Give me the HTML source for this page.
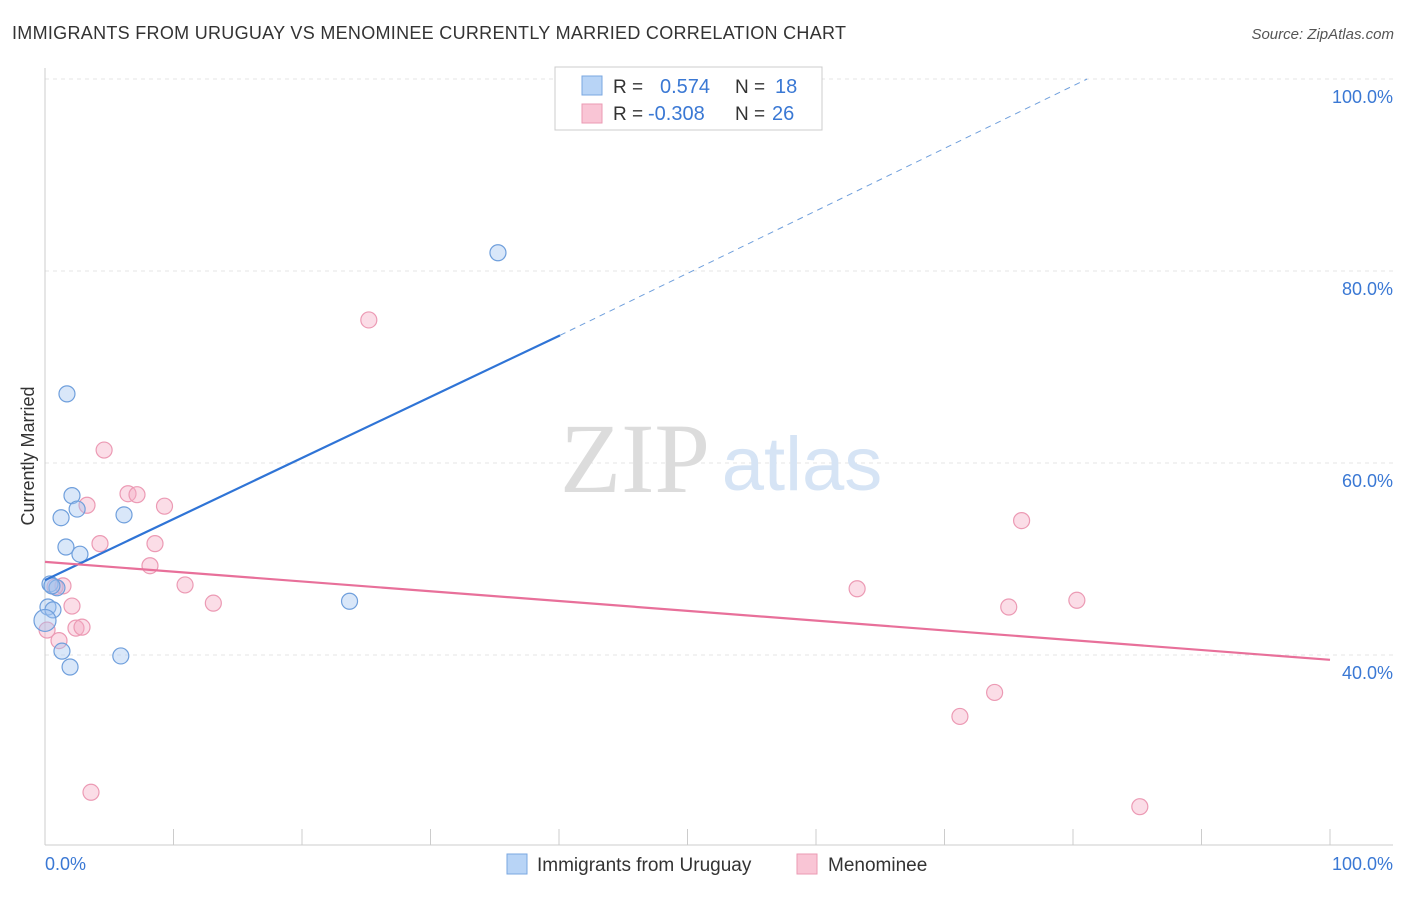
<!DOCTYPE html>
<html><head><meta charset="utf-8"><style>
body{margin:0;background:#fff;font-family:"Liberation Sans",sans-serif;}
</style></head><body>
<svg width="1406" height="892" xmlns="http://www.w3.org/2000/svg" font-family="Liberation Sans, sans-serif">
<text x="12" y="39" font-size="18" fill="#333" textLength="834">IMMIGRANTS FROM URUGUAY VS MENOMINEE CURRENTLY MARRIED CORRELATION CHART</text>
<text x="1394" y="39" font-size="15" fill="#555" text-anchor="end" font-style="italic">Source: ZipAtlas.com</text>
<g id="grid"></g>
<line x1="45" y1="68" x2="45" y2="845" stroke="#ccc"/>
<line x1="45" y1="845" x2="1393" y2="845" stroke="#ccc"/>
<text x="635" y="492" font-size="100" fill="#dcdcdc" style="font-family:'Liberation Serif',serif" text-anchor="middle">ZIP</text>
<text x="802" y="490" font-size="76" fill="#d6e4f5" text-anchor="middle">atlas</text>
<text transform="translate(34,456) rotate(-90)" font-size="18" fill="#333" text-anchor="middle">Currently Married</text>
<text x="45" y="870" font-size="18" fill="#3a78d4">0.0%</text>
<text x="1393" y="870" font-size="18" fill="#3a78d4" text-anchor="end">100.0%</text>
<g id="marks"></g>
<g>
<rect x="555" y="67" width="267" height="63" fill="#fff" stroke="#ccc"/>
<rect x="582" y="76" width="20" height="19" fill="#b8d4f6" stroke="#7aa7e0"/>
<rect x="582" y="104" width="20" height="19" fill="#f9c5d5" stroke="#eb9ab3"/>
<text x="613" y="93" font-size="19" fill="#333">R = </text><text x="660" y="93" font-size="20" fill="#3a78d4">0.574</text>
<text x="735" y="93" font-size="19" fill="#333">N = </text><text x="775" y="93" font-size="20" fill="#3a78d4">18</text>
<text x="613" y="120" font-size="19" fill="#333">R = </text><text x="648" y="120" font-size="20" fill="#3a78d4">-0.308</text>
<text x="735" y="120" font-size="19" fill="#333">N = </text><text x="772" y="120" font-size="20" fill="#3a78d4">26</text>
</g>
<g>
<rect x="507" y="854" width="20" height="20" fill="#b8d4f6" stroke="#7aa7e0"/>
<text x="537" y="871" font-size="19" fill="#333">Immigrants from Uruguay</text>
<rect x="797" y="854" width="20" height="20" fill="#f9c5d5" stroke="#eb9ab3"/>
<text x="828" y="871" font-size="19" fill="#333">Menominee</text>
</g>
</svg>
<script>
const yTicks=[40,60,80,100];
const yTickLabels=["40.0%","60.0%","80.0%","100.0%"];
const xTicks=[0,10,20,30,40,50,60,70,80,90,100];
const blueX=[35.25,1.71,2.1,1.25,2.5,6.15,1.63,2.72,0.39,0.93,0.54,0.23,0.62,0,1.32,1.95,5.9,23.7];
const blueY=[81.9,67.2,56.6,54.3,55.2,54.6,51.25,50.5,47.4,47.0,47.2,45.0,44.7,43.6,40.4,38.75,39.9,45.6];
const pinkX=[25.2,4.6,6.46,7.16,9.3,3.27,4.28,8.56,8.17,10.9,13.1,1.4,0.78,2.1,2.41,2.88,1.09,0.16,3.58,63.2,76.0,75.0,80.3,73.9,71.2,85.2];
const pinkY=[74.9,61.35,56.8,56.7,55.5,55.6,51.6,51.6,49.3,47.3,45.4,47.2,47.1,45.1,42.8,42.9,41.5,42.6,25.7,46.9,54.0,45.0,45.7,36.1,33.6,24.2];
const blueTrend=[47.8,73.3,100]; const blueTrendX=[0,40.08,81.1];
const pinkTrendX=[0,100]; const pinkTrend=[49.7,39.5];
const NS="http://www.w3.org/2000/svg";
const X=v=>45+v*12.85, Y=v=>1039-v*9.6;
const grid=document.getElementById('grid'), marks=document.getElementById('marks');
function mk(tag,attrs,parent){const e=document.createElementNS(NS,tag);for(const k in attrs)e.setAttribute(k,attrs[k]);parent.appendChild(e);return e;}
yTicks.forEach((t,i)=>{
 const l=mk('line',{x1:45,x2:1393,y1:Y(t),y2:Y(t),stroke:'#e6e6e6','stroke-dasharray':'4,4'},grid);
 
 
 const tx=mk('text',{x:1393,y:Y(t)+24,'font-size':18,fill:'#3a78d4','text-anchor':'end'},grid);
 tx.textContent=yTickLabels[i];
 
 
});
xTicks.forEach(t=>{
 const l=mk('line',{x1:X(t),x2:X(t),y1:829,y2:845,stroke:'#ccc'},grid);
 
 
});
pinkX.forEach((v,i)=>{
 const c=mk('circle',{cx:X(v),cy:Y(pinkY[i]),r:8,fill:'rgba(246,170,195,0.4)',stroke:'#ec9ab4','stroke-width':1.2},marks);
 
 
});
blueX.forEach((v,i)=>{
 const c=mk('circle',{cx:X(v),cy:Y(blueY[i]),r:i==13?11:8,fill:'rgba(160,196,240,0.4)',stroke:'#6f9fdc','stroke-width':1.2},marks);
 
 
});
let l=mk('line',{x1:X(blueTrendX[0]),y1:Y(blueTrend[0]),x2:X(blueTrendX[1]),y2:Y(blueTrend[1]),stroke:'#2f74d6','stroke-width':2.2},marks);


l=mk('line',{x1:X(blueTrendX[1]),y1:Y(blueTrend[1]),x2:X(blueTrendX[2]),y2:Y(blueTrend[2]),stroke:'#6f9fdc','stroke-width':1,'stroke-dasharray':'6,5'},marks);


l=mk('line',{x1:X(pinkTrendX[0]),y1:Y(pinkTrend[0]),x2:X(pinkTrendX[1]),y2:Y(pinkTrend[1]),stroke:'#e8709a','stroke-width':2.2},marks);


</script>
</body></html>
